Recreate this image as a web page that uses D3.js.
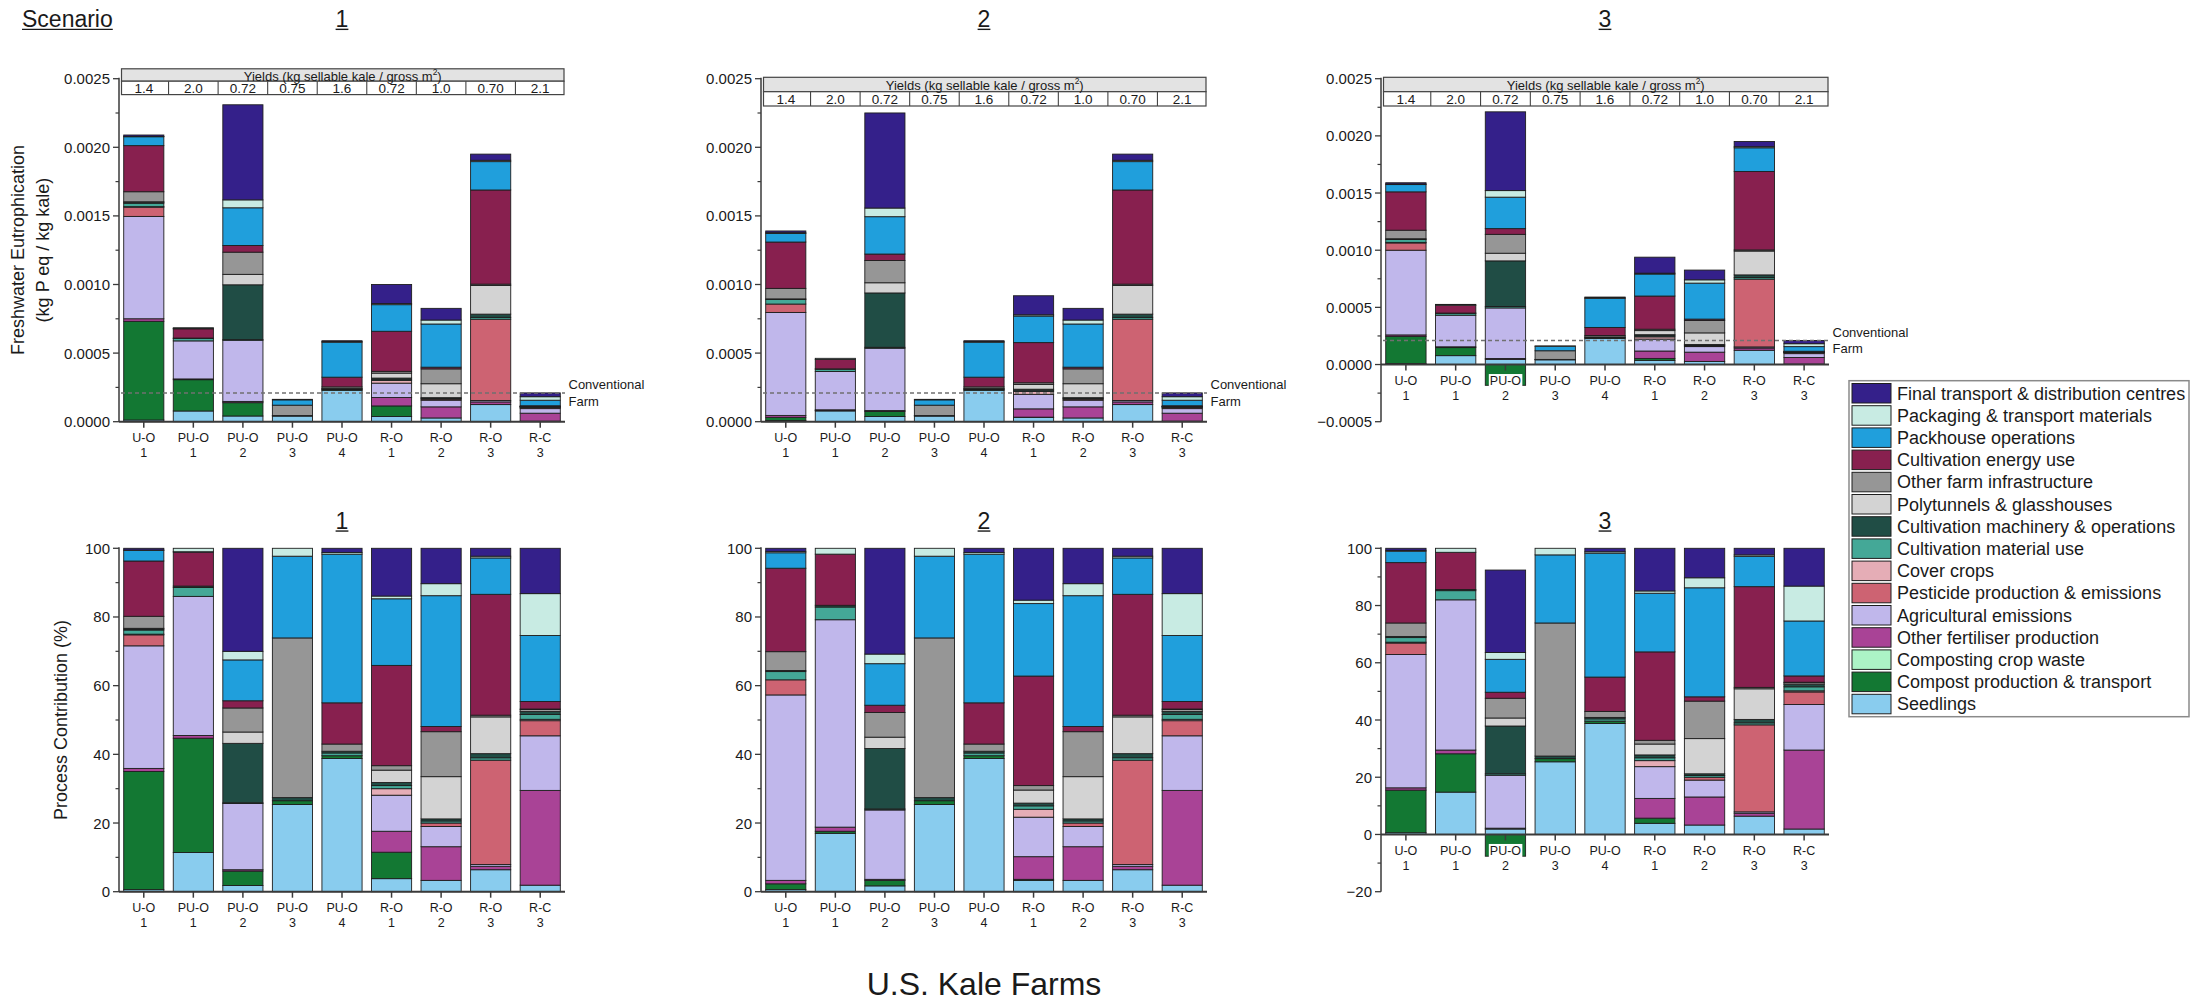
<!DOCTYPE html>
<html><head><meta charset="utf-8">
<script src="https://cdn.jsdelivr.net/npm/d3@7"></script>
<style>body{margin:0;background:#fff;}svg{display:block;}text{font-family:"Liberation Sans",Arial,sans-serif;fill:#1a1a1a;}</style>
</head><body><svg id="c" width="2194" height="1002"></svg>
<script>
// ---------- DATA ----------
const categories = ["Seedlings","Compost production & transport","Composting crop waste","Other fertiliser production","Agricultural emissions","Pesticide production & emissions","Cover crops","Cultivation material use","Cultivation machinery & operations","Polytunnels & glasshouses","Other farm infrastructure","Cultivation energy use","Packhouse operations","Packaging & transport materials","Final transport & distribution centres"];
const colors = ["#89ccee","#137833","#acf3c6","#a94396","#c0b7eb","#cd6372","#e5adb6","#44a897","#204d45","#d3d3d3","#969696","#88204f","#209fdc","#c8ebe3","#34208a"];
const farms = ["U-O","PU-O","PU-O","PU-O","PU-O","R-O","R-O","R-O","R-C"];
const farmNums = ["1","1","2","3","4","1","2","3","3"];
const yields = ["1.4","2.0","0.72","0.75","1.6","0.72","1.0","0.70","2.1"];
const scenarios = ["1","2","3"];
const conventionalFarm = 0.00021;
const absTicks = [-0.0005,0,0.0005,0.001,0.0015,0.002,0.0025];
const pctTicks = [-20,0,20,40,60,80,100];

// Freshwater eutrophication, kg P eq / kg kale (rows = farms, cols = categories bottom->top)
const absS1 = [
 [1.25e-5,7.19e-4,0,1.88e-5,7.46e-4,6.69e-5,4.2e-6,2.51e-5,6.3e-6,4.2e-6,7.32e-5,3.36e-4,6.48e-5,2.1e-6,1.05e-5],
 [7.81e-5,2.281e-4,0,5.5e-6,2.774e-4,0,0,1.78e-5,2.7e-6,0,0,6.78e-5,7e-7,6.9e-6,0],
 [4.16e-5,9.70e-5,0,9.2e-6,4.458e-4,0,0,4.6e-6,3.996e-4,7.62e-5,1.617e-4,4.85e-5,2.749e-4,5.78e-5,6.93e-4],
 [4.14e-5,1.8e-6,0,0,0,0,0,0,1.5e-6,0,7.58e-5,0,3.88e-5,3.7e-6,0],
 [2.289e-4,4.7e-6,0,0,0,0,0,4.7e-6,3.0e-6,0,1.24e-5,7.08e-5,2.555e-4,3.0e-6,7.1e-6],
 [3.8e-5,7.7e-5,0,6.1e-5,1.05e-4,0,1.9e-5,9e-6,9e-6,3.6e-5,1.3e-5,2.92e-4,1.94e-4,8e-6,1.39e-4],
 [2.73e-5,0,0,8.09e-5,4.87e-5,8.3e-6,0,5.0e-6,5.0e-6,1.016e-4,1.082e-4,1.24e-5,3.147e-4,2.89e-5,8.51e-5],
 [1.248e-4,0,0,1.95e-5,9.8e-6,5.928e-4,0,1.37e-5,2.34e-5,2.087e-4,9.8e-6,6.864e-4,2.067e-4,9.8e-6,4.49e-5],
 [4.0e-6,0,0,5.80e-5,3.34e-5,9.2e-6,8e-7,2.9e-6,1.9e-6,1.1e-6,4e-7,4.6e-6,4.03e-5,2.56e-5,2.77e-5]
];
const absS2 = [
 [8.3e-6,2.36e-5,0,1.39e-5,7.506e-4,6.12e-5,0,3.34e-5,4.2e-6,0,7.65e-5,3.378e-4,6.26e-5,5.6e-6,1.25e-5],
 [7.85e-5,2.8e-6,0,5.5e-6,2.790e-4,0,0,1.71e-5,2.3e-6,0,0,6.88e-5,0,7.9e-6,0],
 [3.83e-5,3.6e-5,0,6.8e-6,4.545e-4,0,0,6.8e-6,3.96e-4,7.43e-5,1.62e-4,4.73e-5,2.723e-4,6.3e-5,6.93e-4],
 [4.14e-5,1.8e-6,0,0,0,0,0,0,1.5e-6,0,7.58e-5,0,3.88e-5,3.7e-6,0],
 [2.289e-4,4.7e-6,0,0,0,0,0,4.7e-6,3.0e-6,0,1.24e-5,7.08e-5,2.555e-4,3.0e-6,7.1e-6],
 [3.03e-5,2.8e-6,0,6.06e-5,1.056e-4,0,2.11e-5,9.2e-6,7.3e-6,3.49e-5,1.19e-5,2.928e-4,1.937e-4,9.2e-6,1.386e-4],
 [2.73e-5,0,0,8.09e-5,4.87e-5,8.3e-6,0,5.0e-6,5.0e-6,1.016e-4,1.082e-4,1.24e-5,3.147e-4,2.89e-5,8.51e-5],
 [1.248e-4,0,0,1.95e-5,9.8e-6,5.928e-4,0,1.37e-5,2.34e-5,2.087e-4,9.8e-6,6.864e-4,2.067e-4,9.8e-6,4.49e-5],
 [4.0e-6,0,0,5.80e-5,3.34e-5,9.2e-6,8e-7,2.9e-6,1.9e-6,1.1e-6,4e-7,4.6e-6,4.03e-5,2.56e-5,2.77e-5]
];
const absS3 = [
 [9.5e-6,2.369e-4,0,1.27e-5,7.409e-4,6.36e-5,4.8e-6,2.54e-5,6.4e-6,0,7.47e-5,3.355e-4,6.36e-5,4.8e-6,1.11e-5],
 [7.78e-5,7.05e-5,0,6.8e-6,2.762e-4,0,0,1.68e-5,2.1e-6,0,0,6.84e-5,0,7.4e-6,0],
 [4.54e-5,-1.818e-4,0,7.2e-6,4.425e-4,0,0,1.2e-5,3.995e-4,6.70e-5,1.650e-4,5.02e-5,2.751e-4,5.74e-5,6.889e-4],
 [4.14e-5,1.8e-6,0,0,0,0,0,0,1.5e-6,0,7.58e-5,0,3.88e-5,3.7e-6,0],
 [2.289e-4,4.7e-6,0,0,0,0,0,4.7e-6,3.0e-6,0,1.24e-5,7.08e-5,2.555e-4,3.0e-6,7.1e-6],
 [3.66e-5,1.69e-5,0,6.48e-5,1.042e-4,0,1.97e-5,9.4e-6,9.4e-6,3.57e-5,1.22e-5,2.902e-4,1.925e-4,7.5e-6,1.399e-4],
 [2.73e-5,0,0,8.09e-5,4.87e-5,8.3e-6,0,5.0e-6,5.0e-6,1.016e-4,1.082e-4,1.24e-5,3.147e-4,2.89e-5,8.51e-5],
 [1.248e-4,0,0,1.95e-5,9.8e-6,5.928e-4,0,1.37e-5,2.34e-5,2.087e-4,9.8e-6,6.864e-4,2.067e-4,9.8e-6,4.49e-5],
 [4.0e-6,0,0,5.80e-5,3.34e-5,9.2e-6,8e-7,2.9e-6,1.9e-6,1.1e-6,4e-7,4.6e-6,4.03e-5,2.56e-5,2.77e-5]
];
// Process contribution, %
const pctS1 = [
 [0.6,34.4,0,0.9,35.7,3.2,0.2,1.2,0.3,0.2,3.5,16.1,3.1,0.1,0.5],
 [11.4,33.3,0,0.8,40.5,0,0,2.6,0.4,0,0,9.9,0.1,1.0,0],
 [1.8,4.2,0,0.4,19.3,0,0,0.2,17.3,3.3,7.0,2.1,11.9,2.5,30.0],
 [25.4,1.1,0,0,0,0,0,0,0.9,0,46.5,0,23.8,2.3,0],
 [38.8,0.8,0,0,0,0,0,0.8,0.5,0,2.1,12.0,43.3,0.5,1.2],
 [3.8,7.7,0,6.1,10.5,0,1.9,0.9,0.9,3.6,1.3,29.2,19.4,0.8,13.9],
 [3.3,0,0,9.8,5.9,1.0,0,0.6,0.6,12.3,13.1,1.5,38.1,3.5,10.3],
 [6.4,0,0,1.0,0.5,30.4,0,0.7,1.2,10.7,0.5,35.2,10.6,0.5,2.3],
 [1.9,0,0,27.6,15.9,4.4,0.4,1.4,0.9,0.5,0.2,2.2,19.2,12.2,13.2]
];
const pctS2 = [
 [0.6,1.7,0,1.0,54.0,4.4,0,2.4,0.3,0,5.5,24.3,4.5,0.4,0.9],
 [17.0,0.6,0,1.2,60.4,0,0,3.7,0.5,0,0,14.9,0,1.7,0],
 [1.7,1.6,0,0.3,20.2,0,0,0.3,17.6,3.3,7.2,2.1,12.1,2.8,30.8],
 [25.4,1.1,0,0,0,0,0,0,0.9,0,46.5,0,23.8,2.3,0],
 [38.8,0.8,0,0,0,0,0,0.8,0.5,0,2.1,12.0,43.3,0.5,1.2],
 [3.3,0.3,0,6.6,11.5,0,2.3,1.0,0.8,3.8,1.3,31.9,21.1,1.0,15.1],
 [3.3,0,0,9.8,5.9,1.0,0,0.6,0.6,12.3,13.1,1.5,38.1,3.5,10.3],
 [6.4,0,0,1.0,0.5,30.4,0,0.7,1.2,10.7,0.5,35.2,10.6,0.5,2.3],
 [1.9,0,0,27.6,15.9,4.4,0.4,1.4,0.9,0.5,0.2,2.2,19.2,12.2,13.2]
];
const pctS3 = [
 [0.6,14.9,0,0.8,46.6,4.0,0.3,1.6,0.4,0,4.7,21.1,4.0,0.3,0.7],
 [14.8,13.4,0,1.3,52.5,0,0,3.2,0.4,0,0,13.0,0,1.4,0],
 [1.9,-7.6,0,0.3,18.5,0,0,0.5,16.7,2.8,6.9,2.1,11.5,2.4,28.8],
 [25.4,1.1,0,0,0,0,0,0,0.9,0,46.5,0,23.8,2.3,0],
 [38.8,0.8,0,0,0,0,0,0.8,0.5,0,2.1,12.0,43.3,0.5,1.2],
 [3.9,1.8,0,6.9,11.1,0,2.1,1.0,1.0,3.8,1.3,30.9,20.5,0.8,14.9],
 [3.3,0,0,9.8,5.9,1.0,0,0.6,0.6,12.3,13.1,1.5,38.1,3.5,10.3],
 [6.4,0,0,1.0,0.5,30.4,0,0.7,1.2,10.7,0.5,35.2,10.6,0.5,2.3],
 [1.9,0,0,27.6,15.9,4.4,0.4,1.4,0.9,0.5,0.2,2.2,19.2,12.2,13.2]
];

// ---------- LAYOUT ----------
const svg = d3.select("#c");
const panelX = [[119,565],[761,1207],[1381,1829]];
const tableGeo = [[68.8,12.4,13.4],[77.3,14.4,14.3],[77.3,14.4,14.3]];
const fmtAbs = d3.format(".4f");
const fmtPct = d3.format("d");

function underlinedText(x,y,txt,size,anchor){
  const t = svg.append("text").attr("x",x).attr("y",y).attr("font-size",size)
    .attr("text-anchor",anchor).attr("dominant-baseline","central").text(txt);
  const bb = t.node().getBBox();
  svg.append("line").attr("x1",bb.x).attr("x2",bb.x+bb.width)
    .attr("y1",y+size*0.45).attr("y2",y+size*0.45).attr("stroke","#1a1a1a").attr("stroke-width",1.4);
}

function drawPanel(pi, rows, isAbs){
  const [x0,x1] = panelX[pi];
  const neg = pi===2;
  const g = svg.append("g");
  const x = d3.scaleBand().domain(d3.range(9)).range([x0,x1]).paddingInner(0.19).paddingOuter(0.095);
  const yDom = isAbs ? [neg?-0.0005:0, 0.0025] : [neg?-20:0, 100];
  const yRange = isAbs ? [421.7, 78.7] : [891.7, 548.3];
  const y = d3.scaleLinear().domain(yDom).range(yRange);
  const data = rows.map((r,i)=>{const o={i}; r.forEach((v,k)=>o[k]=v); return o;});
  const stack = d3.stack().keys(d3.range(categories.length)).offset(d3.stackOffsetDiverging);
  const series = stack(data);
  series.forEach((s,k)=>{
    g.append("g").selectAll("rect").data(s.filter(d=>Math.abs(d[1]-d[0])>0)).join("rect")
      .attr("x",d=>x(d.data.i)).attr("width",x.bandwidth())
      .attr("y",d=>y(Math.max(d[0],d[1]))).attr("height",d=>Math.abs(y(d[0])-y(d[1])))
      .attr("fill",colors[k]).attr("stroke","#1e1e1e").attr("stroke-width",0.9);
  });
  // conventional farm line
  if(isAbs){
    const yc = y(conventionalFarm);
    g.append("line").attr("x1",x0+2).attr("x2",x1).attr("y1",yc).attr("y2",yc)
      .attr("stroke","#707070").attr("stroke-width",1.5).attr("stroke-dasharray","4,3");
    g.append("text").attr("x",x1+3.5).attr("y",yc-8.3).attr("font-size",13).attr("dominant-baseline","central").text("Conventional");
    g.append("text").attr("x",x1+3.5).attr("y",yc+8.3).attr("font-size",13).attr("dominant-baseline","central").text("Farm");
  }
  // axes
  const y0 = y(0);
  g.append("line").attr("x1",x0).attr("x2",x1).attr("y1",y0).attr("y2",y0).attr("stroke","#3a3a3a").attr("stroke-width",2);
  g.append("line").attr("x1",x0).attr("x2",x0).attr("y1",y(yDom[1])-1).attr("y2",y(yDom[0])).attr("stroke","#3a3a3a").attr("stroke-width",1.5);
  const ticks = (isAbs?absTicks:pctTicks).filter(v=>v>=yDom[0]-1e-12);
  const step = isAbs?0.00025:10;
  ticks.forEach(v=>{
    g.append("line").attr("x1",x0-6).attr("x2",x0).attr("y1",y(v)).attr("y2",y(v)).attr("stroke","#3a3a3a").attr("stroke-width",1.3);
    g.append("text").attr("x",x0-9).attr("y",y(v)).attr("font-size",15).attr("text-anchor","end")
      .attr("dominant-baseline","central").text(isAbs?fmtAbs(v):fmtPct(v));
    if(v<yDom[1]-1e-12){
      const m=v+step;
      g.append("line").attr("x1",x0-3.5).attr("x2",x0).attr("y1",y(m)).attr("y2",y(m)).attr("stroke","#3a3a3a").attr("stroke-width",1.2);
    }
  });
  // x labels
  d3.range(9).forEach(i=>{
    const cx = x(i)+x.bandwidth()/2;
    g.append("line").attr("x1",cx).attr("x2",cx).attr("y1",y0).attr("y2",y0+6).attr("stroke","#3a3a3a").attr("stroke-width",1.5);
    const hasNeg = rows[i].some(v=>v<0);
    const t = g.append("text").attr("x",cx).attr("y",y0+16.5).attr("font-size",12.5).attr("text-anchor","middle")
      .attr("dominant-baseline","central").text(farms[i]);
    if(hasNeg){
      const bb=t.node().getBBox();
      g.insert("rect","text").attr("x",bb.x-1).attr("y",bb.y).attr("width",bb.width+2).attr("height",bb.height).attr("fill","#fff");
      t.raise();
    }
    g.append("text").attr("x",cx).attr("y",y0+31.5).attr("font-size",12.5).attr("text-anchor","middle")
      .attr("dominant-baseline","central").text(farmNums[i]);
  });
  // yield table
  if(isAbs){
    const [tt,h1,h2] = tableGeo[pi];
    const tx0 = x0+2.5, tx1 = x1-1;
    g.append("rect").attr("x",tx0).attr("y",tt).attr("width",tx1-tx0).attr("height",h1).attr("fill","#e3e3e3").attr("stroke","#444").attr("stroke-width",1.2);
    g.append("rect").attr("x",tx0).attr("y",tt+h1).attr("width",tx1-tx0).attr("height",h2).attr("fill","#fff").attr("stroke","#444").attr("stroke-width",1.2);
    const ht = g.append("text").attr("x",(tx0+tx1)/2).attr("y",tt+h1/2+0.5).attr("font-size",13).attr("text-anchor","middle").attr("dominant-baseline","central");
    ht.append("tspan").text("Yields (kg sellable kale / gross m");
    ht.append("tspan").attr("font-size",8.5).attr("dy",-4).text("2");
    ht.append("tspan").attr("dy",4).text(")");
    d3.range(9).forEach(i=>{
      if(i>0) g.append("line").attr("x1",x0+i*x.step()).attr("x2",x0+i*x.step()).attr("y1",tt+h1).attr("y2",tt+h1+h2).attr("stroke","#444").attr("stroke-width",1.1);
      g.append("text").attr("x",x(i)+x.bandwidth()/2).attr("y",tt+h1+h2/2+0.5).attr("font-size",13.5).attr("text-anchor","middle")
        .attr("dominant-baseline","central").text(yields[i]);
    });
  }
  // panel title
  underlinedText((x0+x1)/2, isAbs?19:520.7, scenarios[pi], 23, "middle");
}

[absS1,absS2,absS3].forEach((r,i)=>drawPanel(i,r,true));
[pctS1,pctS2,pctS3].forEach((r,i)=>drawPanel(i,r,false));

underlinedText(22,19,"Scenario",23,"start");

// axis titles
svg.append("text").attr("transform","translate(18.4,250) rotate(-90)").attr("font-size",18).attr("text-anchor","middle").attr("dominant-baseline","central").text("Freshwater Eutrophication");
svg.append("text").attr("transform","translate(43,250) rotate(-90)").attr("font-size",18).attr("text-anchor","middle").attr("dominant-baseline","central").text("(kg P eq / kg kale)");
svg.append("text").attr("transform","translate(61,720) rotate(-90)").attr("font-size",18).attr("text-anchor","middle").attr("dominant-baseline","central").text("Process Contribution (%)");
svg.append("text").attr("x",984).attr("y",984).attr("font-size",32).attr("text-anchor","middle").attr("dominant-baseline","central").text("U.S. Kale Farms");

// legend
const lg = svg.append("g");
lg.append("rect").attr("x",1849).attr("y",380.7).attr("width",340).attr("height",336).attr("fill","#fff").attr("stroke","#8a8a8a").attr("stroke-width",1.5);
d3.range(categories.length).reverse().forEach((k,j)=>{
  const yy = 383.5 + j*22.2;
  lg.append("rect").attr("x",1852).attr("y",yy).attr("width",39).attr("height",19.5).attr("fill",colors[k]).attr("stroke","#1e1e1e").attr("stroke-width",1);
  lg.append("text").attr("x",1897).attr("y",yy+10).attr("font-size",18).attr("dominant-baseline","central").text(categories[k]);
});
</script></body></html>
